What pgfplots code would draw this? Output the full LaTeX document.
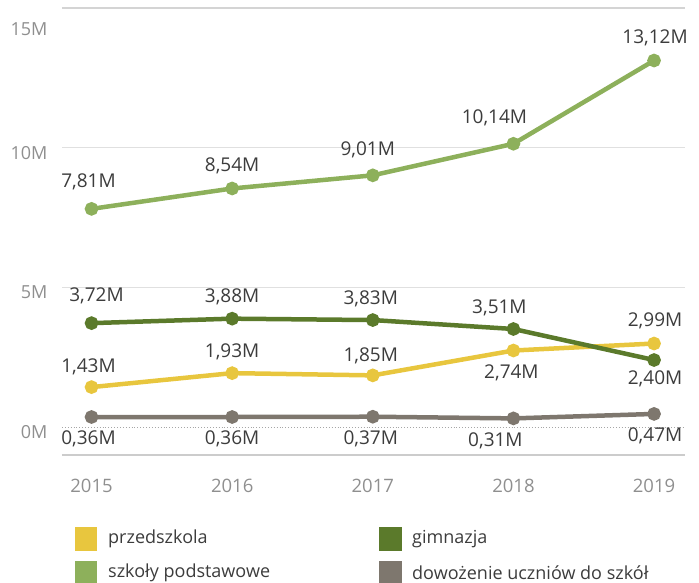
\documentclass[border=0pt]{standalone}
\usepackage{pgfplots}
\usepackage{pgfplotstable}
\usepackage{fontspec}
\pgfplotsset{compat=1.18}
\setmainfont{Open Sans}

\definecolor{cPrzed}{HTML}{E8C63E}
\definecolor{cPodst}{HTML}{8DB05B}
\definecolor{cGimn}{HTML}{5B7A2B}
\definecolor{cDow}{HTML}{7E776E}
\definecolor{cTick}{HTML}{8F8F8F}
\definecolor{cLab}{HTML}{3C3C3C}

% x y label dx dy
\pgfplotstableread{
x y lab dx dy
2015 1.43 1,43M -3 20
2016 1.93 1,93M 0 21
2017 1.85 1,85M -2 20
2018 2.74 2,74M -2 -22
2019 2.99 2,99M 1 23
}\przed
\pgfplotstableread{
x y lab dx dy
2015 3.72 3,72M 5 27
2016 3.88 3,88M 0 22
2017 3.83 3,83M -2 21
2018 3.51 3,51M -14 21
2019 2.40 2,40M 1 -19
}\gimn
\pgfplotstableread{
x y lab dx dy
2015 7.81 7,81M -3 27
2016 8.54 8,54M 0 23
2017 9.01 9,01M -5 26
2018 10.14 10,14M -19 26
2019 13.12 13,12M 1 23
}\podst
\pgfplotstableread{
x y lab dx dy
2015 0.36 0,36M -3 -22
2016 0.36 0,36M 0 -22
2017 0.37 0,37M -2 -22
2018 0.31 0,31M -18 -22
2019 0.47 0,47M 1 -22
}\dow

\pgfplotsset{
  series/.style={line width=4.5pt, mark=*, mark size=4.5pt,
    nodes near coords={\pgfplotspointmeta},
    point meta=explicit symbolic,
    visualization depends on={\thisrow{dx}\as\mydx},
    visualization depends on={\thisrow{dy}\as\mydy},
    every node near coord/.style={anchor=center, inner sep=0pt, text=cLab,
      font=\fontsize{19}{21}\selectfont, xshift=\mydx pt, yshift=\mydy pt}},
}

\begin{document}
\begin{tikzpicture}
\begin{axis}[
  at={(0pt,0pt)}, anchor=south west,
  scale only axis,
  width=623pt, height=447pt,
  xmin=2014.79, xmax=2019.22,
  ymin=-1, ymax=15,
  axis x line*=bottom,
  axis y line=none,
  x axis line style={draw=black!20, line width=1.5pt, -},
  xtick={2015,2016,2017,2018,2019},
  xticklabel style={/pgf/number format/1000 sep=, /pgf/number format/assume math mode=true,
    text=cTick, font=\fontsize{18.5}{20}\selectfont, yshift=-21pt},
  major tick length=0pt,
  ytick=\empty,
  clip=false,
]
% grid lines
\draw[black!17, line width=1.2pt] (axis cs:2014.79,15) -- (axis cs:2019.22,15);
\draw[black!12, line width=1pt] (axis cs:2014.79,10) -- (axis cs:2019.22,10);
\draw[black!12, line width=1pt] (axis cs:2014.79,5) -- (axis cs:2019.22,5);
\draw[black!35, line width=0.9pt, dotted] (axis cs:2014.79,0) -- (axis cs:2019.22,0);
\node[anchor=east, text=cTick, font=\fontsize{18}{20}\selectfont] at (axis cs:2014.79,15) [xshift=-11pt, yshift=-21pt] {15M};
\pgfplotsinvokeforeach{0,5,10}{
  \node[anchor=east, text=cTick, font=\fontsize{18}{20}\selectfont] at (axis cs:2014.79,#1) [xshift=-11pt, yshift=-5pt] {#1M};
}
\addplot[series, color=cPrzed] table[x=x, y=y, meta=lab] {\przed};
\addplot[series, color=cGimn] table[x=x, y=y, meta=lab] {\gimn};
\addplot[series, color=cPodst] table[x=x, y=y, meta=lab] {\podst};
\addplot[series, color=cDow] table[x=x, y=y, meta=lab] {\dow};
\end{axis}
% legend
\begin{scope}[every node/.style={anchor=west, inner sep=0pt, text=cLab, font=\fontsize{18}{20}\selectfont}]
\fill[cPrzed] (13pt,-72pt) rectangle (35pt,-96pt);
\node at (46pt,-84pt) {przedszkola};
\fill[cGimn] (317pt,-72pt) rectangle (340pt,-96pt);
\node at (350pt,-84pt) {gimnazja};
\fill[cPodst] (13pt,-106pt) rectangle (35pt,-128pt);
\node at (46pt,-118pt) {szkoły podstawowe};
\fill[cDow] (317pt,-106pt) rectangle (340pt,-128pt);
\node at (350pt,-118pt) {dowożenie uczniów do szkół};
\end{scope}
\path (-62pt,-128pt) rectangle (637pt,455pt);
\end{tikzpicture}
\end{document}
